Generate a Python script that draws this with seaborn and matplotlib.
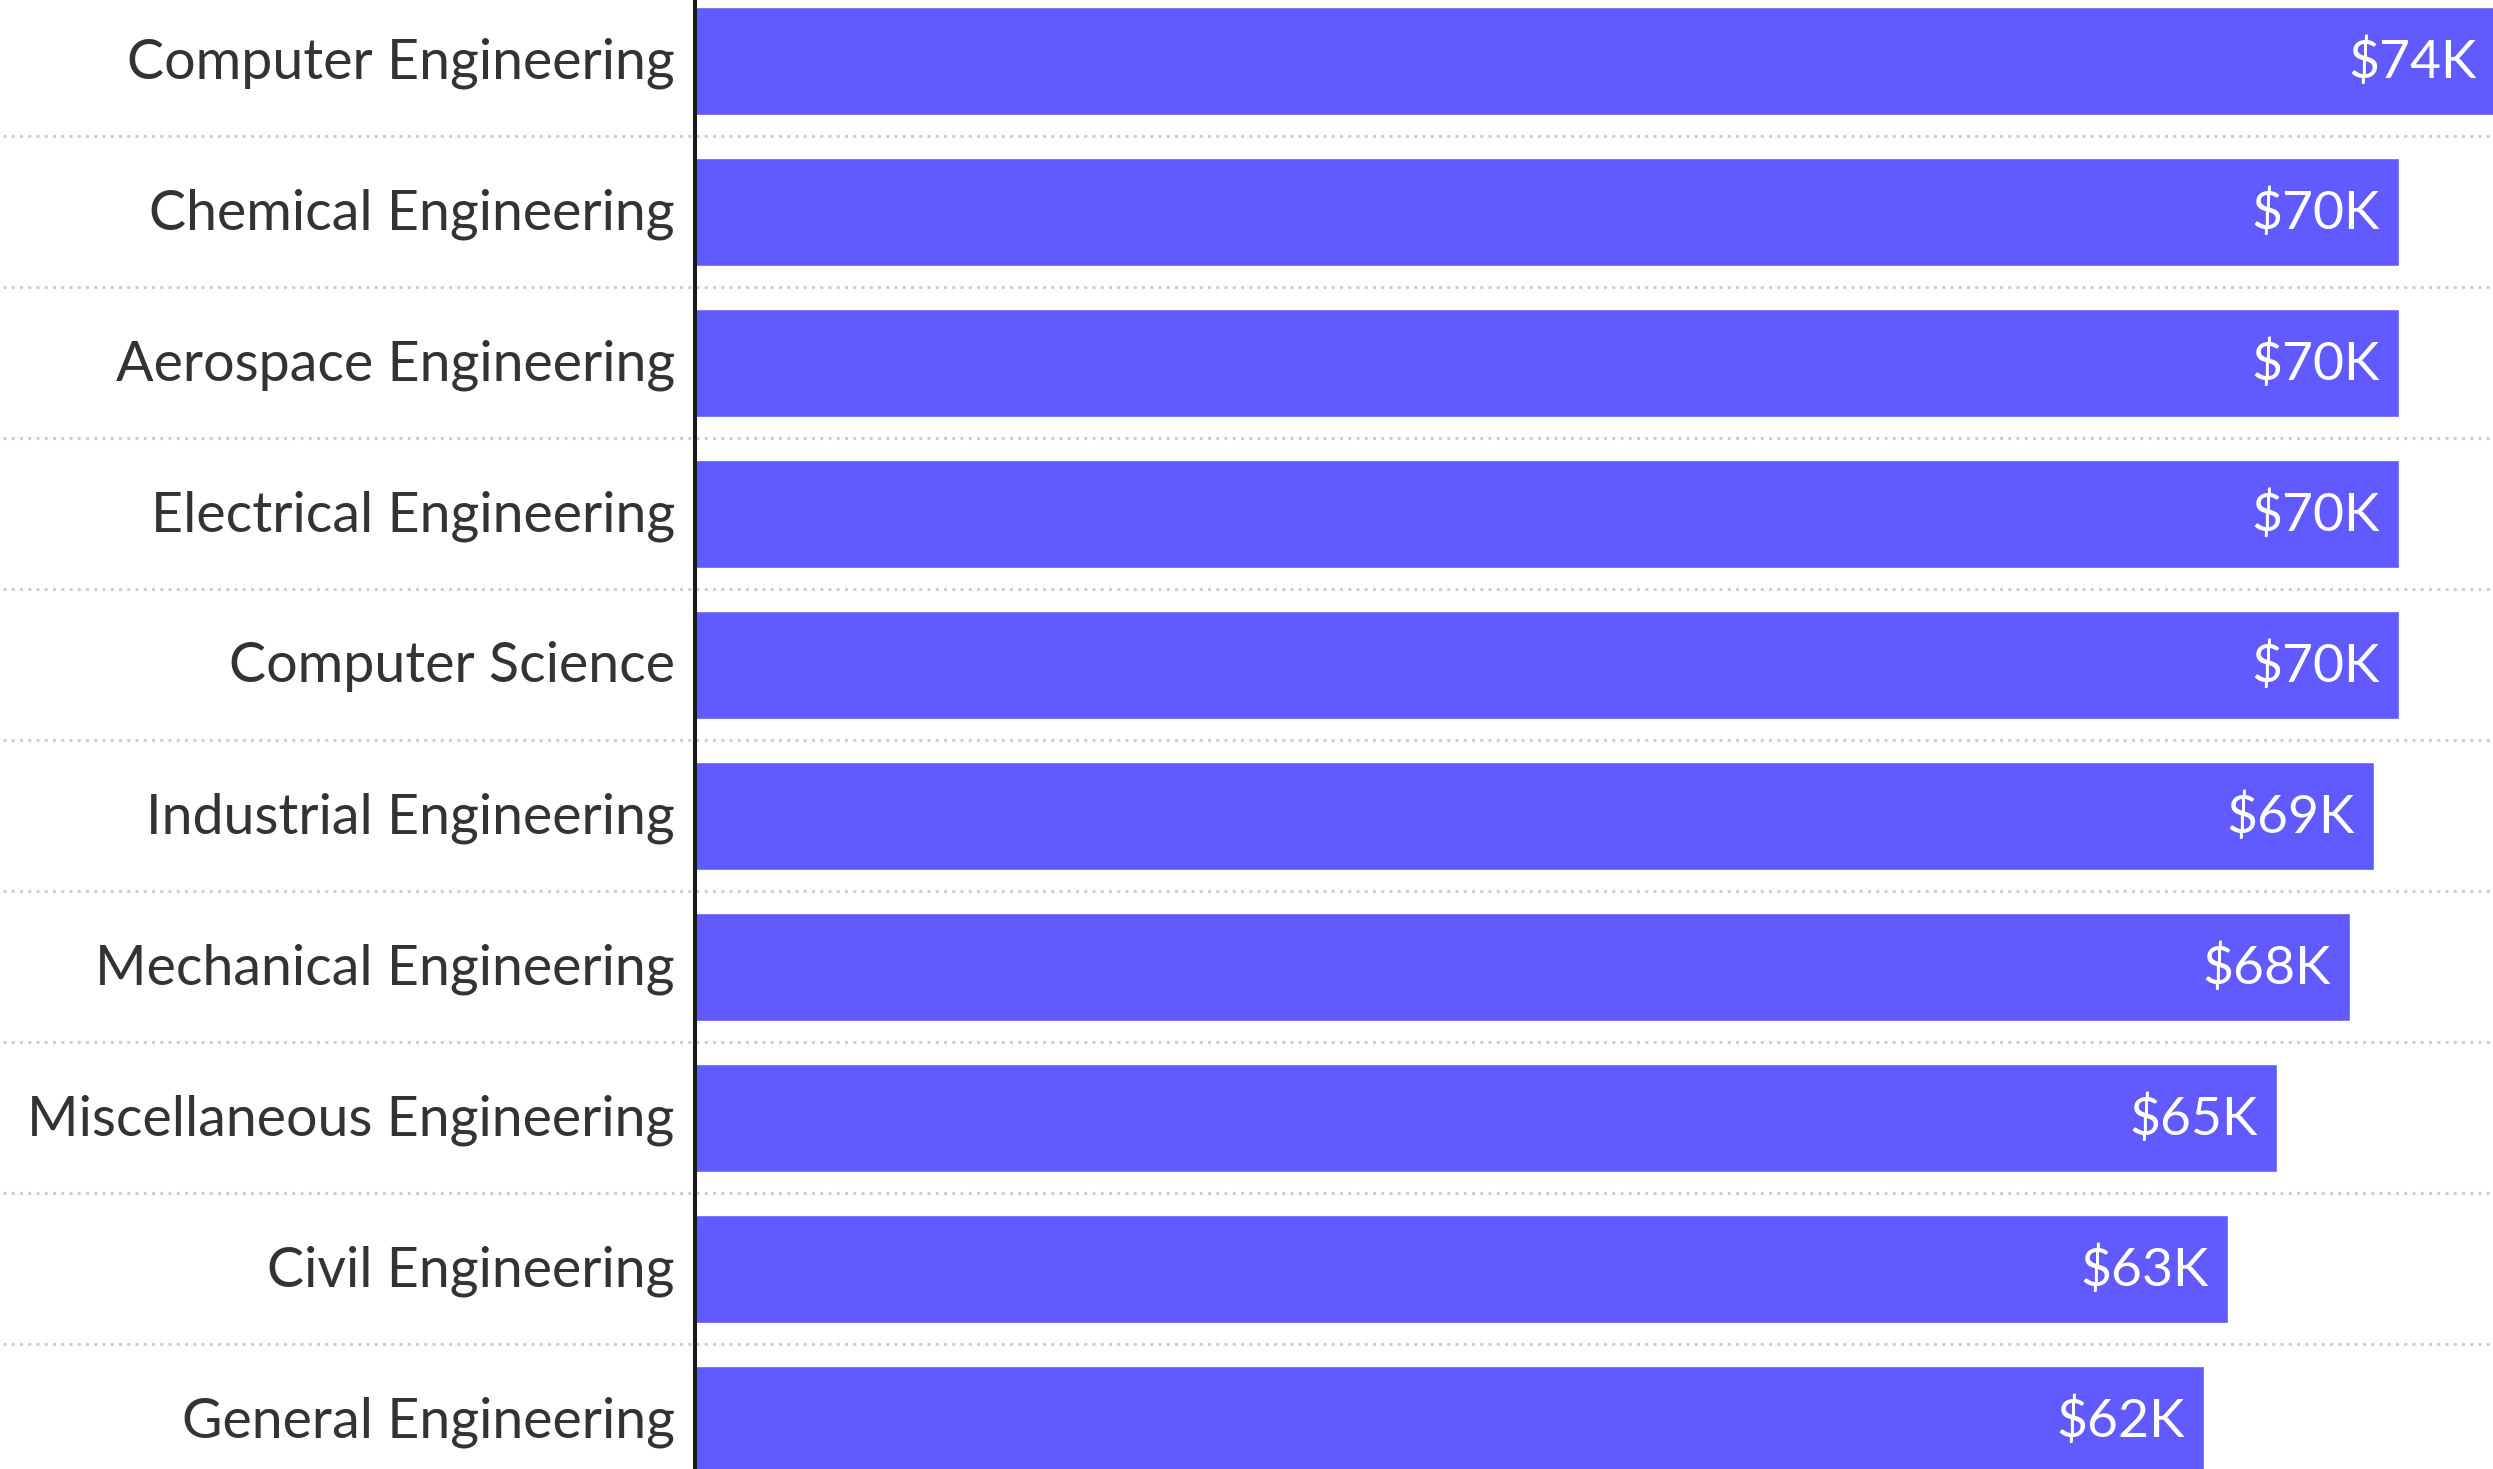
import matplotlib
matplotlib.use("Agg")
import matplotlib.pyplot as plt
import matplotlib.transforms as mtransforms
import seaborn as sns
import pandas as pd

majors = [
    "Computer Engineering",
    "Chemical Engineering",
    "Aerospace Engineering",
    "Electrical Engineering",
    "Computer Science",
    "Industrial Engineering",
    "Mechanical Engineering",
    "Miscellaneous Engineering",
    "Civil Engineering",
    "General Engineering",
]
salary_k = [74, 70, 70, 70, 70, 69, 68, 65, 63, 62]
value_labels = ["$74K", "$70K", "$70K", "$70K", "$70K", "$69K", "$68K", "$65K", "$63K", "$62K"]

df = pd.DataFrame({"major": majors, "salary": salary_k})

sns.set_theme(style="white")
plt.rcParams["font.family"] = ["Lato", "DejaVu Sans"]

W, H, DPI = 2493, 1469, 100
fig = plt.figure(figsize=(W / DPI, H / DPI), dpi=DPI)
left_px = 695
ax = fig.add_axes([left_px / W, 0, (W - left_px) / W, 1])

bar_color = "#615BFF"
sns.barplot(data=df, x="salary", y="major", orient="h", color=bar_color,
            saturation=1, width=0.715, ax=ax, order=majors)

ax.set_xlim(0, (W - left_px) / 24.34)
ax.set_ylim(9.325, -0.404)

for s in ["top", "right", "bottom"]:
    ax.spines[s].set_visible(False)
ax.spines["left"].set_color("#1a1a1a")
ax.spines["left"].set_linewidth(2.9)
ax.spines["left"].set_zorder(5)

ax.set_xticks([])
ax.set_xlabel("")
ax.set_ylabel("")
ax.tick_params(axis="y", length=0, pad=14.5, labelsize=40, labelcolor="#333333")
shift_up = mtransforms.ScaledTranslation(0, 3 / DPI, fig.dpi_scale_trans)
for lab in ax.get_yticklabels():
    lab.set_transform(lab.get_transform() + shift_up)

# dotted separators spanning the full figure width
xmin_ax = -left_px / (W - left_px) + 3 / (W - left_px)
for i in range(len(majors) - 1):
    ax.axhline(i + 0.5, xmin=xmin_ax, xmax=1, clip_on=False, color="#cfcfcf",
               linewidth=2.2, linestyle=(0, (1, 1.7)), dash_capstyle="butt", zorder=0)

for i, (v, lab) in enumerate(zip(salary_k, value_labels)):
    ax.annotate(lab, xy=(v, i), xytext=(-14, -1.2), textcoords="offset points",
                ha="right", va="center", color="white", fontsize=38.5, zorder=6,
                annotation_clip=False)

fig.savefig("out.png", dpi=DPI, facecolor="white")
